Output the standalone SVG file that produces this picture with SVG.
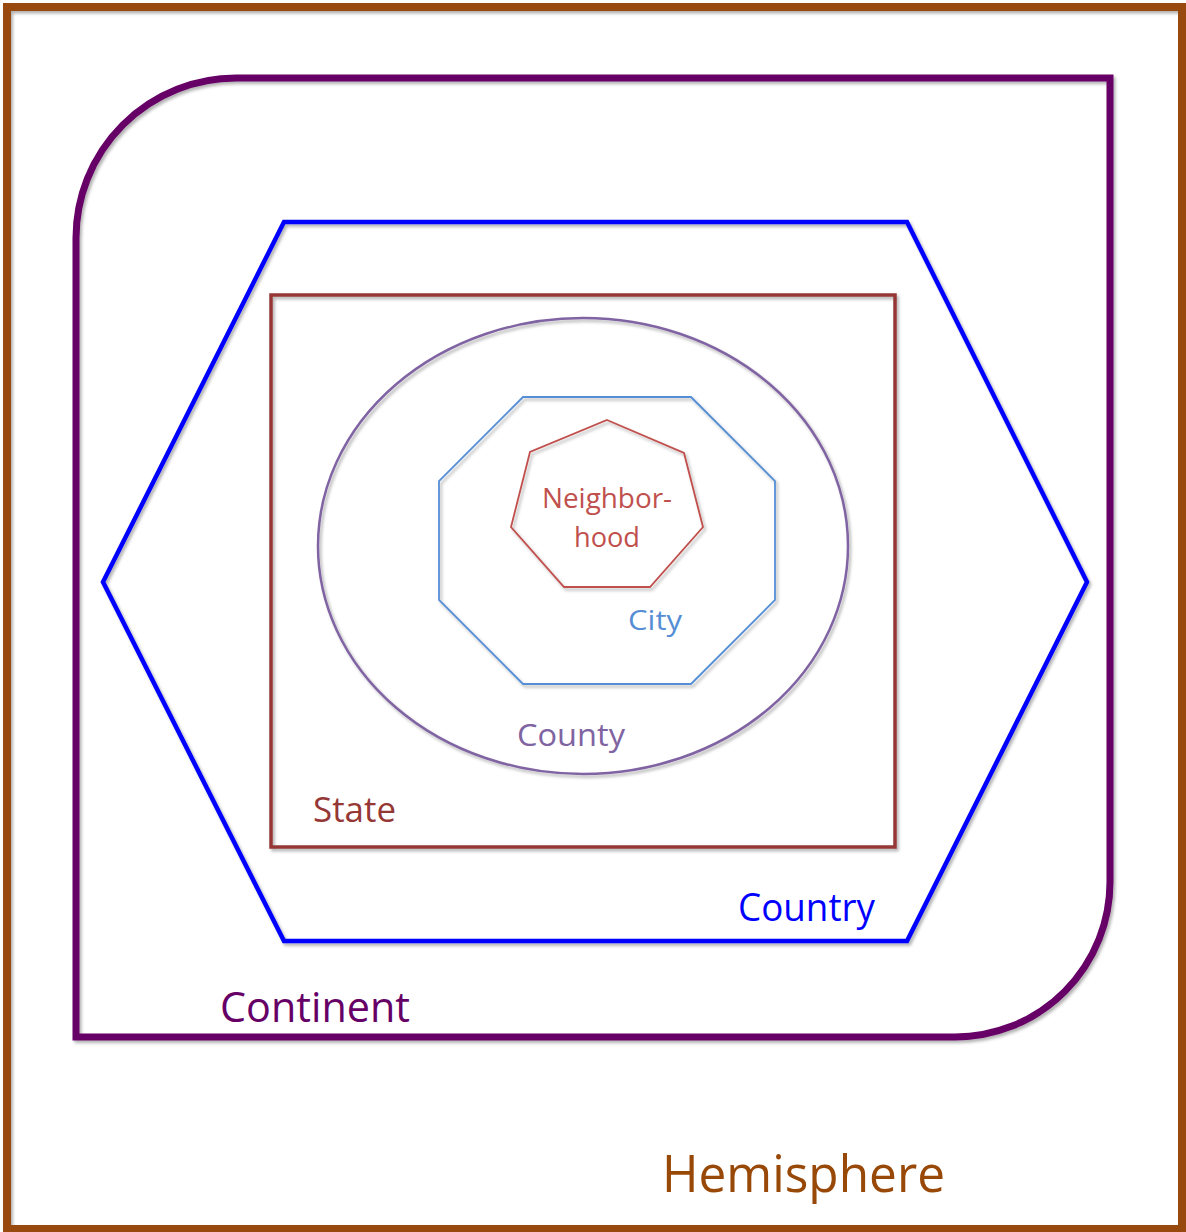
<svg xmlns="http://www.w3.org/2000/svg" width="1186" height="1232" viewBox="0 0 1186 1232">
<defs>
<filter id="sh" x="-5%" y="-5%" width="110%" height="110%">
<feDropShadow dx="2" dy="2.5" stdDeviation="1.5" flood-color="#000" flood-opacity="0.3"/>
</filter>
<style>
.s{fill:none;stroke-linejoin:miter;filter:url(#sh)}
text{font-family:"Open Sans","Liberation Sans",sans-serif}
</style>
</defs>
<rect width="1186" height="1232" fill="#ffffff"/>
<g id="hemisphere">
<rect class="s" x="7" y="7" width="1175" height="1222" stroke="#984807" stroke-width="8"/>
<text x="662" y="1192" font-size="52" fill="#984807" textLength="283" lengthAdjust="spacingAndGlyphs">Hemisphere</text>
</g>
<g id="continent">
<path class="s" d="M76,1037 L76,238 A160,160 0 0 1 236,78 L1110,78 L1110,882 A155,155 0 0 1 955,1037 Z" stroke="#660066" stroke-width="7"/>
<text x="220" y="1022" font-size="42" fill="#660066" textLength="190" lengthAdjust="spacingAndGlyphs">Continent</text>
</g>
<g id="country">
<polygon class="s" points="284,222 907,222 1087,582 907,941 284,941 103,582" stroke="#0000FF" stroke-width="4.5"/>
<text x="738" y="921" font-size="38" fill="#0000FF" textLength="137" lengthAdjust="spacingAndGlyphs">Country</text>
</g>
<g id="state">
<rect class="s" x="271" y="295" width="624" height="552" stroke="#953735" stroke-width="3.5"/>
<text x="313" y="822" font-size="35" fill="#953735" textLength="83" lengthAdjust="spacingAndGlyphs">State</text>
</g>
<g id="county">
<ellipse class="s" cx="583" cy="546" rx="265" ry="228" stroke="#8064A2" stroke-width="2.5"/>
<text x="517" y="746" font-size="31" fill="#8064A2" textLength="108" lengthAdjust="spacingAndGlyphs">County</text>
</g>
<g id="city">
<polygon class="s" points="523,397 691,397 775,481 775,600 691,684 523,684 439,600 439,481" stroke="#558ED5" stroke-width="1.8"/>
<text x="628" y="630" font-size="28" fill="#558ED5" textLength="54" lengthAdjust="spacingAndGlyphs">City</text>
</g>
<g id="neighborhood">
<polygon class="s" points="607,420 684,453 703,527 650,587 564,587 511,527 530,452" stroke="#C0504D" stroke-width="1.8"/>
<text x="542" y="508" font-size="28" fill="#C0504D" textLength="130" lengthAdjust="spacingAndGlyphs">Neighbor-</text>
<text x="574" y="547" font-size="28" fill="#C0504D" textLength="66" lengthAdjust="spacingAndGlyphs">hood</text>
</g>
<g id="connectors"/>
</svg>
